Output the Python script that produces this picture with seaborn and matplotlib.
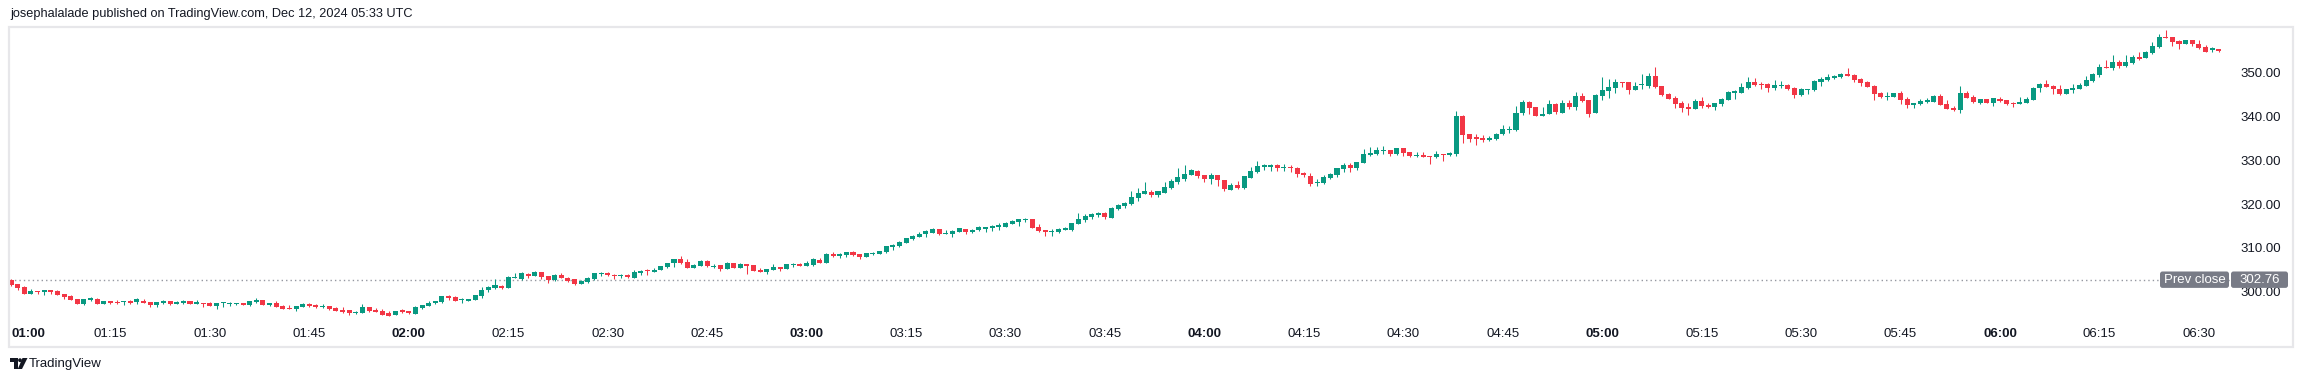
import numpy as np
import matplotlib
matplotlib.use("Agg")
import matplotlib.pyplot as plt
from matplotlib.patches import Rectangle, FancyBboxPatch, Circle, Polygon
import seaborn as sns

# 1-minute bars, 01:00 .. 06:33
opens = [
    302.8, 301.77, 301.09, 299.57, 300.18, 300.03, 300.41, 300.18, 299.5, 299.04,
    298.36, 297.3, 298.2, 298.43, 297.22, 297.83, 297.75, 297.6, 297.9, 297.75,
    297.9, 297.67, 296.99, 297.45, 297.9, 297.3, 297.45, 297.9, 297.22, 297.45,
    297.45, 296.76, 297.38, 297.3, 297.3,
    297.37, 296.91, 297.75, 298.13, 297.07, 297.45, 296.76, 296.3, 296.08, 296.61,
    297.3, 297.07, 296.61, 296.76, 296.3, 295.93, 295.85, 295.24, 295.24, 296.53,
    295.85, 295.62, 295.24, 294.79, 295.77, 295.62, 295.02, 296.38, 296.84, 297.37,
    297.67, 299.04, 298.89, 298.2,
    297.97, 298.21, 299.12, 300.41, 300.79, 301.32, 300.94, 303.22, 302.99, 304.06,
    303.68, 304.51, 303.6, 302.77, 303.83, 303.22, 302.92, 301.78, 302.23, 302.92,
    304.06, 304.28, 303.9, 303.68, 303.9, 303.22, 304.28, 304.9, 304.6, 304.97,
    305.65, 306.56, 307.47, 306.71, 305.5,
    305.96, 307.02, 305.73, 306.11, 305.27, 306.56, 305.5, 306.34, 306.11, 305.04,
    304.59, 305.05, 305.65, 305.27, 306.11, 306.41, 305.96, 306.11, 307.25, 306.64,
    308.69, 308.16, 308.39, 309.0, 308.62, 307.93, 308.62, 308.62, 309.07, 310.21,
    310.44, 311.2, 312.03, 312.49,
    313.16, 313.47, 314.3, 313.24, 313.24, 313.7, 314.3, 313.7, 314.15, 314.38,
    314.53, 314.68, 314.83, 315.44, 315.9, 316.28, 316.58, 314.76, 314.07, 313.7,
    313.7, 314.15, 314.15, 315.44, 316.35, 316.96, 317.49, 318.02, 316.88, 318.93,
    319.62, 320.07, 321.44, 322.35, 322.73,
    322.12, 322.5, 323.56, 325.01, 325.69, 326.6, 327.51, 326.6, 325.69, 326.6,
    325.46, 323.18, 324.32, 323.64, 325.92, 327.29, 328.42, 328.5, 328.88, 328.2,
    328.42, 328.2, 327.06, 326.37, 324.7, 324.78, 325.92, 326.6, 327.97, 328.88,
    328.2, 329.34, 331.16, 331.39, 332.15,
    332.3, 331.47, 332.76, 331.85, 330.93, 331.16, 330.93, 330.78, 331.39, 331.24,
    331.39, 340.12, 335.95, 335.26, 335.03, 334.58, 334.81, 335.95, 336.86, 336.86,
    340.65, 343.31, 342.17, 340.12, 340.58, 342.85, 340.8, 343.08, 342.17, 344.68,
    343.69, 340.8, 344.68, 345.81,
    346.5, 347.87, 347.79, 346.04, 347.03, 346.96, 349.16, 346.88, 345.13, 344.22,
    343.08, 342.17, 341.72, 343.54, 342.63, 342.17, 342.85, 343.77, 345.36, 345.36,
    346.35, 347.79, 347.41, 347.41, 346.5, 346.96, 347.18, 346.5, 344.9, 346.04,
    346.04, 347.79, 348.25, 348.78, 349.0,
    349.61, 349.39, 348.47, 347.87, 346.96, 345.28, 344.45, 344.45, 345.28, 343.92,
    342.63, 342.78, 343.23, 343.31, 344.68, 342.85, 341.94, 341.41, 345.28, 344.37,
    343.08, 343.92, 343.08, 343.92, 343.69, 343.08, 342.85, 343.08, 343.77, 346.5,
    347.41, 346.96, 346.27, 345.13, 346.04,
    346.27, 346.88, 348.02, 349.39, 351.21, 350.98, 352.35, 351.44, 352.12, 353.48,
    353.33, 354.4, 355.76, 358.12, 358.04, 357.21, 356.45, 357.28, 356.52, 355.84,
    355.0, 355.23,
]
highs = [
    302.9, 301.8, 301.32, 300.63, 300.2, 300.45, 300.5, 300.3, 299.5, 299.27,
    298.4, 298.4, 298.89, 298.66, 297.95, 297.9, 298.13, 297.9, 298.13, 298.66,
    298.36, 297.7, 297.7, 298.2, 297.95, 297.9, 298.2, 297.95, 298.13, 297.5,
    297.67, 297.5, 297.67, 297.75, 297.45,
    297.52, 297.98, 298.58, 298.13, 297.5, 297.83, 296.99, 296.99, 296.8, 297.45,
    297.52, 297.3, 297.22, 296.8, 296.53, 296.46, 295.9, 295.62, 297.3, 296.6,
    296.3, 296.08, 295.7, 295.7, 296.0, 295.7, 296.76, 297.0, 297.98, 297.98,
    299.1, 299.34, 299.11, 298.51,
    298.4, 299.3, 301.1, 301.4, 302.92, 301.55, 303.52, 304.28, 304.51, 304.28,
    304.74, 304.6, 303.7, 304.06, 304.28, 303.37, 303.0, 302.69, 303.37, 304.35,
    304.51, 304.51, 304.06, 304.06, 304.0, 305.04, 305.04, 305.27, 305.42, 305.9,
    306.6, 307.5, 308.16, 307.47, 306.33,
    307.32, 307.25, 306.34, 306.2, 306.79, 306.6, 306.56, 306.4, 306.2, 305.42,
    305.3, 306.34, 305.7, 306.4, 306.64, 306.6, 307.02, 307.7, 307.7, 308.84,
    309.07, 308.84, 309.1, 309.3, 308.7, 308.9, 309.07, 309.4, 310.5, 310.89,
    311.58, 312.3, 312.94, 313.63,
    314.07, 314.61, 314.4, 314.07, 314.0, 314.6, 314.4, 314.38, 314.98, 314.8,
    315.21, 315.59, 315.97, 316.35, 316.6, 316.88, 316.6, 315.44, 314.1, 314.3,
    314.61, 314.83, 315.7, 317.95, 317.72, 318.02, 318.25, 318.1, 319.39, 319.9,
    320.53, 322.96, 323.64, 325.01, 323.19,
    323.0, 325.01, 325.69, 328.2, 328.88, 327.97, 327.74, 326.7, 327.06, 326.7,
    325.5, 324.78, 325.23, 326.4, 328.42, 329.79, 329.11, 329.11, 329.11, 329.11,
    328.88, 328.42, 327.36, 327.06, 325.69, 326.6, 327.06, 328.3, 329.34, 329.34,
    329.6, 332.52, 332.98, 332.98, 333.21,
    332.4, 332.8, 332.8, 331.9, 331.77, 331.85, 331.0, 332.07, 331.4, 331.92,
    341.18, 340.2, 336.0, 335.95, 335.72, 335.49, 336.17, 337.99, 337.77, 342.32,
    343.69, 343.4, 342.2, 342.17, 343.69, 342.9, 343.69, 343.69, 345.59, 345.36,
    343.8, 345.0, 349.01, 348.55,
    348.47, 347.9, 347.8, 347.79, 349.61, 349.84, 351.21, 346.9, 345.36, 344.68,
    343.54, 343.08, 343.99, 344.37, 343.08, 343.1, 344.22, 345.81, 346.04, 347.64,
    348.93, 348.7, 347.79, 347.5, 348.25, 348.02, 347.41, 346.73, 346.5, 346.3,
    348.25, 348.93, 349.61, 349.46, 349.84,
    350.98, 349.61, 348.7, 347.95, 347.18, 345.59, 345.51, 345.3, 345.74, 344.37,
    343.1, 343.92, 344.22, 344.9, 345.13, 343.77, 342.4, 346.96, 345.81, 344.83,
    343.95, 344.0, 344.2, 344.37, 343.7, 343.31, 344.37, 344.37, 346.73, 347.5,
    348.32, 347.18, 347.18, 346.3, 347.41,
    347.49, 349.16, 349.84, 351.89, 352.8, 353.94, 352.8, 353.94, 353.94, 354.63,
    354.85, 356.98, 358.8, 359.71, 358.1, 357.36, 357.3, 357.3, 357.36, 356.3,
    355.76, 355.3,
]
lows = [
    301.4, 300.48, 299.5, 299.5, 299.57, 299.35, 299.57, 299.3, 298.43, 298.2,
    297.2, 297.07, 297.98, 297.2, 297.2, 297.22, 297.22, 297.07, 297.22, 297.3,
    297.45, 296.61, 296.61, 297.3, 297.07, 297.3, 297.3, 297.2, 297.2, 296.61,
    296.7, 296.16, 296.61, 296.8, 297.1,
    296.91, 296.76, 297.37, 297.07, 296.76, 296.6, 296.1, 296.1, 295.7, 296.6,
    296.61, 296.3, 296.3, 295.85, 295.7, 295.09, 294.71, 295.01, 295.2, 295.47,
    295.4, 294.7, 294.5, 294.64, 295.24, 294.94, 295.0, 296.15, 296.8, 297.3,
    297.45, 298.13, 297.9, 297.52,
    297.9, 298.2, 298.67, 300.03, 300.56, 300.71, 300.9, 303.2, 302.69, 303.22,
    303.6, 302.99, 302.08, 302.54, 303.2, 302.31, 301.55, 301.7, 302.08, 302.69,
    303.6, 303.6, 302.92, 303.22, 303.14, 303.2, 303.9, 303.83, 304.5, 304.9,
    305.5, 305.73, 306.33, 305.4, 305.4,
    305.9, 305.73, 305.42, 304.82, 305.2, 305.4, 305.4, 304.04, 304.8, 304.5,
    304.13, 305.0, 304.82, 305.2, 305.73, 305.9, 305.9, 305.88, 306.6, 306.6,
    307.93, 307.78, 308.0, 308.08, 307.55, 307.9, 308.39, 308.6, 308.84, 309.53,
    310.21, 311.1, 311.8, 312.4,
    312.55, 313.4, 312.93, 313.2, 312.55, 313.6, 313.24, 313.47, 313.92, 313.7,
    313.85, 314.15, 314.8, 315.4, 314.98, 315.9, 314.6, 313.7, 312.78, 312.78,
    313.47, 314.1, 313.92, 315.4, 315.97, 316.58, 317.11, 316.58, 316.8, 318.7,
    319.16, 319.84, 320.76, 322.3, 321.67,
    321.67, 322.4, 323.5, 324.63, 325.23, 326.5, 326.0, 325.01, 324.55, 324.1,
    322.96, 323.1, 323.41, 323.41, 325.9, 327.06, 327.74, 327.51, 327.59, 327.51,
    327.36, 326.15, 326.07, 324.1, 324.17, 324.55, 325.69, 326.15, 327.29, 327.29,
    327.74, 329.3, 331.0, 331.23, 331.39,
    331.01, 331.24, 331.01, 330.78, 330.78, 330.7, 329.19, 330.55, 329.87, 331.01,
    331.01, 333.9, 334.12, 333.52, 334.2, 334.43, 334.58, 335.64, 336.17, 336.63,
    340.35, 340.58, 340.1, 340.1, 340.5, 340.58, 340.7, 341.72, 341.41, 343.23,
    339.9, 340.7, 343.77, 344.22,
    345.36, 346.73, 345.13, 346.0, 346.27, 346.5, 346.5, 344.68, 343.9, 341.94,
    341.03, 340.35, 341.6, 341.94, 341.94, 341.49, 342.4, 343.7, 343.99, 345.3,
    346.2, 346.96, 346.27, 345.59, 346.04, 346.5, 346.04, 344.22, 344.68, 345.13,
    345.81, 346.96, 348.02, 348.47, 348.78,
    349.2, 347.87, 346.96, 346.7, 343.77, 344.22, 343.77, 344.4, 342.85, 341.94,
    341.94, 342.55, 343.08, 343.2, 342.6, 341.7, 341.18, 340.8, 344.2, 343.08,
    342.85, 343.0, 342.4, 343.31, 342.63, 342.17, 342.8, 343.0, 343.7, 345.59,
    346.7, 345.13, 344.9, 345.1, 345.36,
    346.2, 346.8, 347.9, 348.93, 350.9, 350.52, 350.98, 351.21, 351.89, 352.8,
    353.3, 354.17, 355.54, 357.8, 356.07, 355.38, 356.4, 356.07, 355.31, 354.6,
    354.63, 354.7,
]
closes = [
    301.6, 300.94, 299.57, 300.18, 300.03, 300.41, 300.03, 299.34, 298.8, 298.2,
    297.22, 298.36, 298.66, 297.22, 297.9, 297.45, 297.52, 297.75, 297.45, 298.28,
    297.52, 296.99, 297.67, 297.98, 297.22, 297.67, 297.9, 297.22, 297.67, 297.3,
    296.76, 297.45, 297.52, 297.45, 297.4,
    297.07, 297.83, 298.13, 297.07, 297.45, 296.61, 296.15, 296.15, 296.76, 297.14,
    296.84, 296.53, 296.84, 296.08, 295.7, 295.32, 295.09, 295.47, 296.53, 295.7,
    295.47, 294.79, 294.56, 295.62, 295.47, 295.24, 296.53, 296.99, 297.45, 297.9,
    299.04, 298.66, 297.9, 298.36,
    298.36, 299.27, 300.41, 301.1, 301.55, 300.94, 303.37, 303.37, 304.28, 303.52,
    304.51, 303.37, 302.69, 303.83, 303.22, 302.54, 301.78, 302.46, 303.14, 304.28,
    304.28, 303.83, 303.68, 303.9, 303.37, 304.51, 304.74, 304.74, 305.04, 305.88,
    306.56, 307.47, 306.56, 305.5, 306.1,
    307.1, 305.96, 305.96, 305.27, 306.56, 305.5, 306.34, 305.96, 304.82, 304.59,
    305.27, 305.73, 305.2, 306.34, 306.34, 305.96, 306.56, 307.47, 306.64, 308.62,
    308.16, 308.62, 309.07, 308.39, 307.93, 308.84, 308.84, 309.3, 310.44, 310.67,
    311.35, 312.26, 312.72, 313.17,
    313.85, 314.38, 313.24, 313.47, 313.85, 314.53, 313.7, 314.15, 314.68, 314.76,
    315.06, 315.21, 315.74, 316.12, 316.58, 316.58, 314.61, 313.92, 313.7, 313.92,
    314.38, 314.61, 315.67, 316.58, 317.34, 317.79, 318.02, 317.11, 319.16, 319.84,
    320.3, 321.59, 322.5, 322.96, 322.05,
    322.96, 323.87, 325.23, 326.15, 326.83, 327.74, 326.37, 325.69, 326.6, 325.46,
    323.41, 324.32, 323.64, 326.37, 327.51, 328.65, 328.88, 328.88, 328.2, 328.42,
    328.2, 326.83, 326.6, 324.55, 325.08, 326.15, 326.83, 328.2, 328.88, 328.2,
    329.56, 331.39, 331.62, 332.3, 332.38,
    331.47, 332.76, 331.69, 331.01, 331.16, 330.78, 330.78, 331.39, 331.24, 331.69,
    340.12, 335.72, 334.81, 334.81, 334.58, 335.03, 335.95, 337.08, 337.08, 340.73,
    343.31, 341.94, 340.12, 340.58, 342.85, 341.03, 343.08, 342.17, 344.68, 343.54,
    340.58, 344.9, 346.04, 346.73,
    347.79, 347.64, 346.04, 346.88, 347.18, 349.16, 346.73, 344.9, 343.99, 342.85,
    341.94, 341.72, 343.54, 342.4, 342.1, 343.08, 343.99, 345.59, 345.81, 346.73,
    347.79, 347.18, 347.18, 346.5, 347.18, 347.18, 346.27, 344.9, 346.27, 346.27,
    348.02, 348.47, 348.93, 349.24, 349.54,
    349.24, 348.32, 347.64, 346.73, 345.13, 344.45, 344.68, 345.28, 343.77, 342.63,
    343.08, 343.54, 343.77, 344.68, 342.63, 341.72, 341.41, 345.28, 344.22, 343.31,
    343.92, 343.08, 344.15, 343.54, 342.78, 342.85, 343.31, 343.92, 346.5, 347.41,
    346.73, 346.27, 345.13, 346.27, 346.5,
    347.11, 348.25, 349.62, 351.21, 350.98, 352.35, 351.44, 352.35, 353.48, 353.03,
    354.63, 355.99, 358.04, 357.89, 356.98, 356.52, 357.28, 356.52, 355.54, 354.7,
    355.46, 354.78,
]

time_labels = [
    "01:00", "01:15", "01:30", "01:45", "02:00", "02:15", "02:30", "02:45",
    "03:00", "03:15", "03:30", "03:45", "04:00", "04:15", "04:30", "04:45",
    "05:00", "05:15", "05:30", "05:45", "06:00", "06:15", "06:30",
]
price_levels = [300, 310, 320, 330, 340, 350]
prev_close = 302.76
header = "josephalalade published on TradingView.com, Dec 12, 2024 05:33 UTC"

sns.set_theme(style="white")
plt.rcParams["font.family"] = ["Liberation Sans", "DejaVu Sans"]

UP, DOWN = "#089981", "#f23645"
TXT = "#131722"

W, H = 2304, 382
fig = plt.figure(figsize=(W / 100, H / 100), dpi=100)
fig.patch.set_facecolor("white")

# candle pane in pixels, measured from the top-left corner
pl, pr, pt, pb = 10, 2230, 27, 322
ax = fig.add_axes([pl / W, 1 - pb / H, (pr - pl) / W, (pb - pt) / H])
ax.set_facecolor("white")

o, h, l, c = (np.array(v) for v in (opens, highs, lows, closes))
x = np.arange(len(c))
cols = np.where(c >= o, UP, DOWN)

ax.axhline(prev_close, color="#9598a1", lw=1, ls=(0, (1, 2.2)), zorder=2)
ax.vlines(x, l, h, colors=cols, lw=0.75, zorder=3)
ax.bar(x, np.maximum(np.abs(c - o), 0.22), bottom=np.minimum(o, c),
       width=0.76, color=cols, linewidth=0, zorder=4)

# pixel scale of the reference
bar_px, first_px = 6.63, 11
px_per_usd, y350 = 4.39, 72.3
ax.set_xlim((pl - first_px) / bar_px, (pr - first_px) / bar_px)
ax.set_ylim(350 - (pb - y350) / px_per_usd, 350 + (y350 - pt) / px_per_usd)

ax.set_xticks(np.arange(len(time_labels)) * 15)
ax.set_xticklabels(time_labels)
for lab in ax.get_xticklabels():
    if lab.get_text().endswith(":00"):
        lab.set_fontweight("bold")
ax.get_xticklabels()[0].set_ha("left")
ax.tick_params(axis="x", length=0, pad=4.5, labelsize=9.5, labelcolor=TXT)

ax.yaxis.tick_right()
ax.set_yticks(price_levels)
ax.set_yticklabels([f"{v:.2f}" for v in price_levels])
ax.tick_params(axis="y", length=0, pad=7.2, labelsize=9.5, labelcolor=TXT)
ax.grid(False)
sns.despine(ax=ax, left=True, bottom=True)

# overlay in pixel coordinates for frame, badges and captions
ov = fig.add_axes([0, 0, 1, 1], zorder=5)
ov.set_xlim(0, W)
ov.set_ylim(H, 0)
ov.axis("off")

ov.add_patch(Rectangle((9, 27), 2284, 320, fill=False, ec="#e7e7ea", lw=1.6))
ov.text(10, 14.5, header, ha="left", va="center", fontsize=9.2, color=TXT)

yc = H - ax.transData.transform((0, prev_close))[1]
ov.add_patch(FancyBboxPatch((2160, yc - 8.2), 69, 16.4, boxstyle="round,pad=0,rounding_size=2.5",
                            fc="#787b86", ec="none"))
ov.add_patch(FancyBboxPatch((2231, yc - 8.2), 57, 16.4, boxstyle="round,pad=0,rounding_size=2.5",
                            fc="#787b86", ec="none"))
ov.text(2194.5, yc + 0.5, "Prev close", color="white", ha="center", va="center", fontsize=9.5)
ov.text(2259.5, yc + 0.5, f"{prev_close:.2f}", color="white", ha="center", va="center", fontsize=9.5)

# TradingView logo
ov.add_patch(Rectangle((10, 358), 7.5, 3.5, color=TXT, lw=0))
ov.add_patch(Rectangle((13.8, 358), 3.7, 11, color=TXT, lw=0))
ov.add_patch(Circle((20, 360.2), 1.9, color=TXT, lw=0))
ov.add_patch(Polygon([(22.5, 358), (27.5, 358), (22.0, 369), (17.8, 369)], color=TXT, lw=0))
ov.text(29, 364, "TradingView", ha="left", va="center", fontsize=9.5, color=TXT)

fig.savefig("out.png", dpi=100, facecolor="white")
